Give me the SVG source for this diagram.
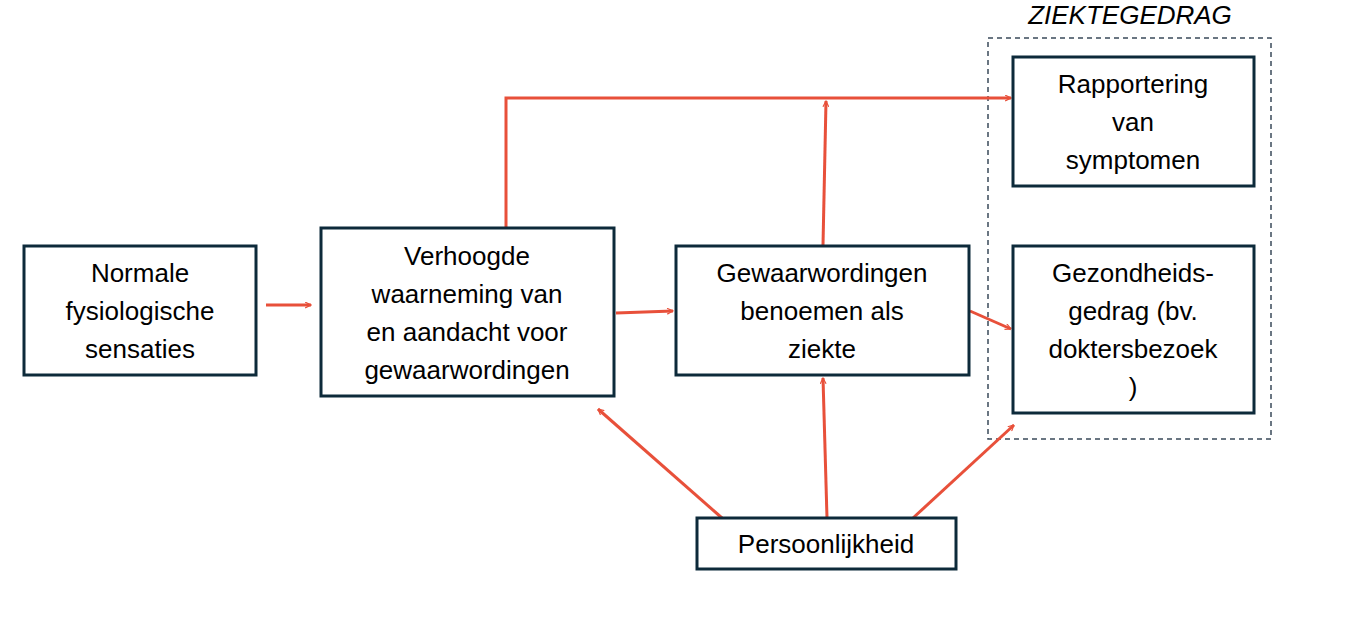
<svg xmlns="http://www.w3.org/2000/svg" width="1366" height="617" viewBox="0 0 1366 617">
<style>
.b{fill:#fff;stroke:#0d2a3a;stroke-width:3}
.t{font-family:"Liberation Sans",Arial,sans-serif;font-size:26px;fill:#000;text-anchor:middle}
.c{fill:none;stroke:#e8503a;stroke-width:3;marker-end:url(#a)}
</style>
<defs><marker id="a" viewBox="0 0 12 12" refX="11" refY="6" markerWidth="7" markerHeight="7" markerUnits="userSpaceOnUse" orient="auto"><path d="M1,1 L11,6 L1,11" fill="none" stroke="#e8503a" stroke-width="2"/></marker></defs>
<rect x="988" y="38" width="283" height="401" fill="none" stroke="#3a4a5a" stroke-width="1.5" stroke-dasharray="5,4"/>
<text x="1130" y="24" class="t" font-style="italic" font-size="24">ZIEKTEGEDRAG</text>
<g id="connectors">
<path class="c" d="M266,305 H311"/>
<path class="c" d="M616,313 L673,311"/>
<path class="c" d="M506,228 V98 H1011"/>
<path class="c" d="M823,245 L826,101"/>
<path class="c" d="M970,311 L1011,329"/>
<path class="c" d="M722,518 L598,409"/>
<path class="c" d="M827,518 L823,378"/>
<path class="c" d="M913,518 L1014,425"/>
</g>
<g id="n1"><rect class="b" x="24" y="246" width="232" height="129"/><text class="t" x="140" y="282">Normale</text><text class="t" x="140" y="320">fysiologische</text><text class="t" x="140" y="358">sensaties</text></g>
<g id="n2"><rect class="b" x="321" y="228" width="293" height="168"/><text class="t" x="467" y="265">Verhoogde</text><text class="t" x="467" y="303">waarneming van</text><text class="t" x="467" y="341">en aandacht voor</text><text class="t" x="467" y="379">gewaarwordingen</text></g>
<g id="n3"><rect class="b" x="676" y="246" width="293" height="129"/><text class="t" x="822" y="282">Gewaarwordingen</text><text class="t" x="822" y="320">benoemen als</text><text class="t" x="822" y="358">ziekte</text></g>
<g id="n4"><rect class="b" x="1013" y="57" width="241" height="129"/><text class="t" x="1133" y="93">Rapportering</text><text class="t" x="1133" y="131">van</text><text class="t" x="1133" y="169">symptomen</text></g>
<g id="n5"><rect class="b" x="1013" y="246" width="241" height="167"/><text class="t" x="1133" y="282">Gezondheids-</text><text class="t" x="1133" y="320">gedrag (bv.</text><text class="t" x="1133" y="358">doktersbezoek</text><text class="t" x="1133" y="396">)</text></g>
<g id="n6"><rect class="b" x="697" y="518" width="259" height="51"/><text class="t" x="826" y="553">Persoonlijkheid</text></g>
</svg>
